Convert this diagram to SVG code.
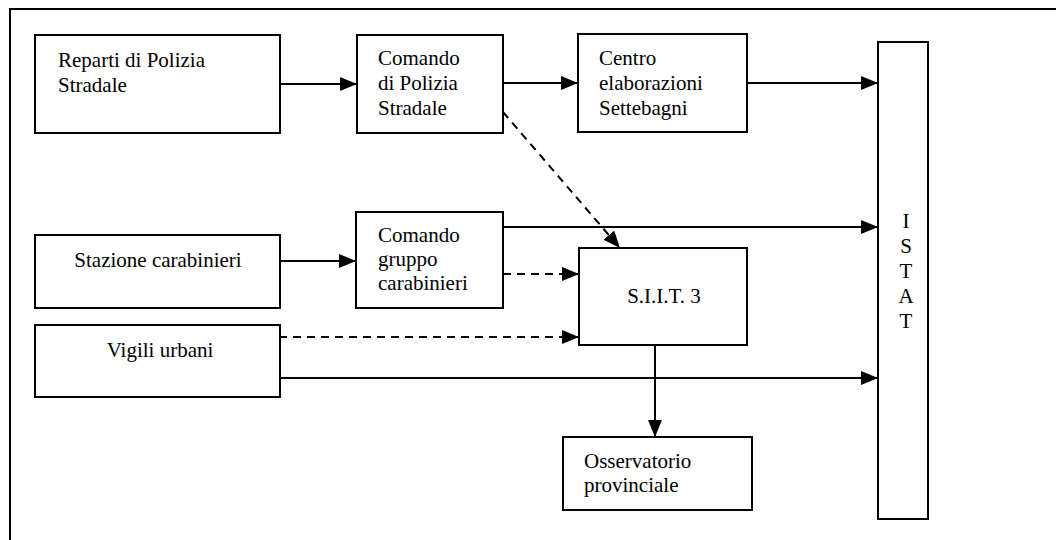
<svg xmlns="http://www.w3.org/2000/svg" width="1056" height="540" viewBox="0 0 1056 540">
<style>
.box{fill:#fff;stroke:#000;stroke-width:2}
.t{font-family:'Liberation Serif','Times New Roman',Times,'DejaVu Serif',serif;font-size:21px;fill:#000}
.c{text-anchor:middle}
.ln{fill:none;stroke:#000;stroke-width:2}
.d{stroke-dasharray:8 6}
</style>
<defs>
<marker id="ah" markerUnits="userSpaceOnUse" markerWidth="18" markerHeight="14" refX="17" refY="7" orient="auto">
<path d="M0,0 L17,7 L0,14 Z" fill="#000"/>
</marker>
</defs>
<rect width="1056" height="540" fill="#fff"/>
<path d="M10,540 V9 H1056" fill="none" stroke="#000" stroke-width="2"/>
<g id="connectors">
<path class="ln" d="M280,84 H357" marker-end="url(#ah)"/>
<path class="ln" d="M503,83 H578" marker-end="url(#ah)"/>
<path class="ln" d="M747,83 H878" marker-end="url(#ah)"/>
<path class="ln d" d="M503,112 L620,248" marker-end="url(#ah)"/>
<path class="ln" d="M279,261 H356" marker-end="url(#ah)"/>
<path class="ln" d="M503,227 H878" marker-end="url(#ah)"/>
<path class="ln d" d="M503,274 H579" marker-end="url(#ah)"/>
<path class="ln d" d="M279,337 H579" marker-end="url(#ah)"/>
<path class="ln" d="M279,378 H878" marker-end="url(#ah)"/>
<path class="ln" d="M655,345 V437" marker-end="url(#ah)"/>
</g>
<g id="reparti">
<rect class="box" x="35" y="35" width="245" height="98"/>
<text class="t" font-family="Liberation Serif, serif" x="58" y="67">Reparti di Polizia</text>
<text class="t" font-family="Liberation Serif, serif" x="58" y="92">Stradale</text>
</g>
<g id="comando-polizia">
<rect class="box" x="357" y="35" width="146" height="98"/>
<text class="t" x="378" y="65">Comando</text>
<text class="t" x="378" y="90">di Polizia</text>
<text class="t" x="378" y="115">Stradale</text>
</g>
<g id="centro">
<rect class="box" x="578" y="34" width="169" height="98"/>
<text class="t" x="599" y="65">Centro</text>
<text class="t" x="599" y="90">elaborazioni</text>
<text class="t" x="599" y="115">Settebagni</text>
</g>
<g id="istat">
<rect class="box" x="878" y="42" width="50" height="477"/>
<text class="t c" x="906" y="228">I</text>
<text class="t c" x="906" y="253">S</text>
<text class="t c" x="906" y="278">T</text>
<text class="t c" x="906" y="303">A</text>
<text class="t c" x="906" y="328">T</text>
</g>
<g id="stazione">
<rect class="box" x="35" y="235" width="245" height="73"/>
<text class="t c" x="158" y="267">Stazione carabinieri</text>
</g>
<g id="comando-gruppo">
<rect class="box" x="356" y="212" width="147" height="96"/>
<text class="t" x="378" y="242">Comando</text>
<text class="t" x="378" y="266">gruppo</text>
<text class="t" x="378" y="290">carabinieri</text>
</g>
<g id="siit">
<rect class="box" x="579" y="248" width="168" height="97"/>
<text class="t c" x="664" y="303">S.I.I.T. 3</text>
</g>
<g id="vigili">
<rect class="box" x="35" y="325" width="245" height="72"/>
<text class="t c" x="160" y="357">Vigili urbani</text>
</g>
<g id="osservatorio">
<rect class="box" x="563" y="437" width="189" height="73"/>
<text class="t" x="584" y="468">Osservatorio</text>
<text class="t" x="584" y="492">provinciale</text>
</g>
</svg>
